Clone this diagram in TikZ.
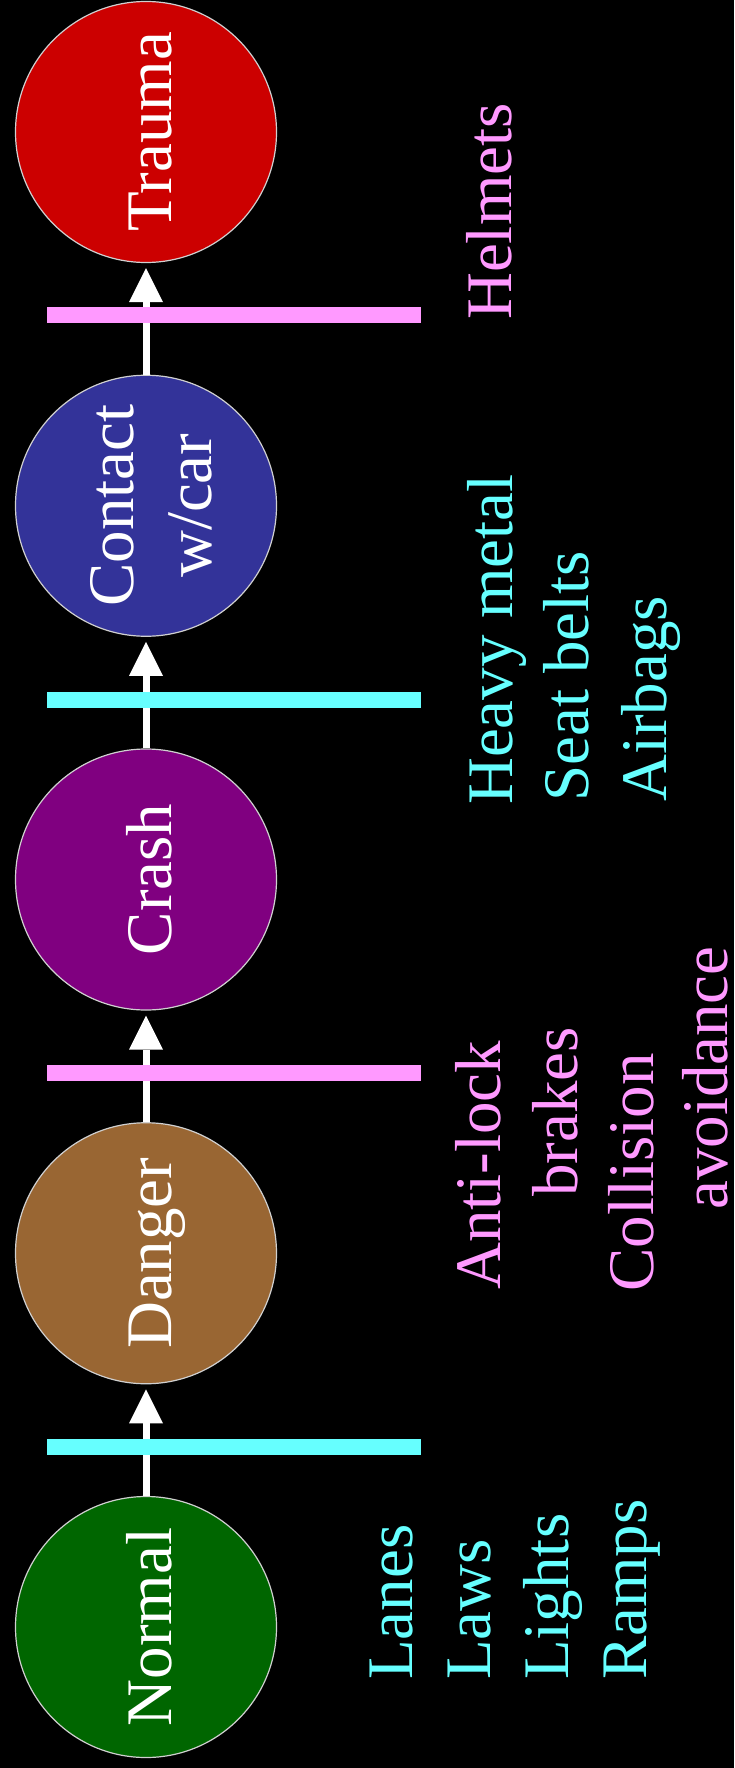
\documentclass[tikz,border=0pt]{standalone}
\usepackage{fontspec}
\setmainfont{Liberation Serif}
\usetikzlibrary{arrows.meta}

\definecolor{barcyan}{HTML}{66FFFF}
\definecolor{barpink}{HTML}{FF99FF}
\definecolor{normalgreen}{HTML}{006600}
\definecolor{dangerbrown}{HTML}{996633}
\definecolor{crashpurple}{HTML}{800080}
\definecolor{contactblue}{HTML}{333399}
\definecolor{traumared}{HTML}{CC0000}
\definecolor{rimgray}{HTML}{D0D0D0}

\begin{document}
\begin{tikzpicture}[x=1pt,y=-1pt,
  stage/.style={circle, draw=rimgray, line width=1.2pt, minimum size=261pt, inner sep=0pt},
  stagetext/.style={rotate=90, anchor=base, inner sep=0pt, text=white,
    font=\fontsize{65}{78}\selectfont},
  barrier/.style={rectangle, draw=none, minimum width=374pt, minimum height=16pt, inner sep=0pt},
  measure/.style={rotate=90, anchor=base west, inner sep=0pt,
    font=\fontsize{65}{78}\selectfont},
  flow/.style={white, line width=7pt,
    -{Triangle[length=34pt,width=34pt,line width=0pt]}, shorten >=5pt},
]
% black page
\fill[black] (0,0) rectangle (734,1768);
\useasboundingbox (0,0) rectangle (734,1768);

% stages of the event chain
\node[stage, fill=traumared]   (trauma)  at (146,132)    {};
\node[stage, fill=contactblue] (contact) at (146,505.75) {};
\node[stage, fill=crashpurple] (crash)   at (146,879.5)  {};
\node[stage, fill=dangerbrown] (danger)  at (146,1253.25){};
\node[stage, fill=normalgreen] (normal)  at (146,1627)   {};

\node[stagetext] (traumaT)   at ([xshift=25pt]trauma.center)   {Trauma};
\node[stagetext] (contactT)  at ([xshift=-13pt]contact.center) {Contact};
\node[stagetext] (contactT2) at ([xshift=65pt]contact.center)  {w/car};
\node[stagetext] (crashT)    at ([xshift=25pt]crash.center)    {Crash};
\node[stagetext] (dangerT)   at ([xshift=25pt]danger.center)   {Danger};
\node[stagetext] (normalT)   at ([xshift=25pt]normal.center)   {Normal};

% transitions
\draw[flow] (normal)  -- (danger);
\draw[flow] (danger)  -- (crash);
\draw[flow] (crash)   -- (contact);
\draw[flow] (contact) -- (trauma);

% countermeasure barriers
\node[barrier, fill=barcyan] (bar1) at (234,1447) {};
\node[barrier, fill=barpink] (bar2) at (234,1073) {};
\node[barrier, fill=barcyan] (bar3) at (234,700)  {};
\node[barrier, fill=barpink] (bar4) at (234,315)  {};

% countermeasures
\node[measure, text=barcyan] (m1a) at (412,1680) {Lanes};
\node[measure, text=barcyan] (m1b) at (490,1680) {Laws};
\node[measure, text=barcyan] (m1c) at (568,1680) {Lights};
\node[measure, text=barcyan] (m1d) at (646,1680) {Ramps};

\node[measure, text=barpink] (m2a) at (500,1290) {Anti-lock};
\node[measure, text=barpink] (m2b) at (577,1197) {brakes};
\node[measure, text=barpink] (m2c) at (653,1292) {Collision};
\node[measure, text=barpink] (m2d) at (727,1210) {avoidance};

\node[measure, text=barcyan] (m3a) at (512,805) {Heavy metal};
\node[measure, text=barcyan] (m3b) at (588,802) {Seat belts};
\node[measure, text=barcyan] (m3c) at (666,802) {Airbags};

\node[measure, text=barpink] (m4a) at (511,320) {Helmets};
\end{tikzpicture}
\end{document}
